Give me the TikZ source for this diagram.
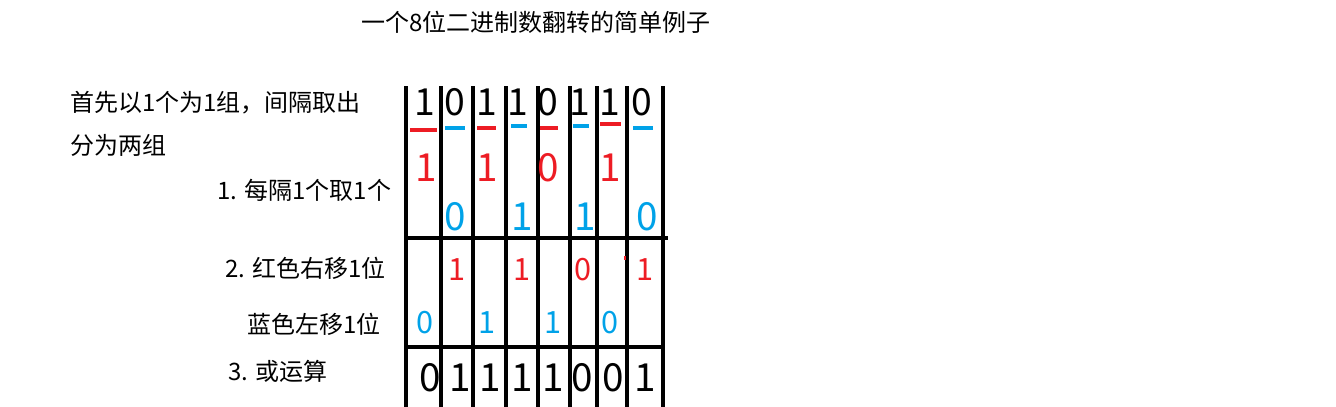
\documentclass[tikz,border=0pt]{standalone}
\usepackage{fontspec}
\newfontfamily\cjk{Noto Sans CJK SC}
\definecolor{pred}{HTML}{ED1C24}
\definecolor{pblue}{HTML}{00A2E8}

\begin{document}
\begin{tikzpicture}[x=0.75pt, y=-0.75pt,
  lbl/.style={font=\cjk\fontsize{18}{20}\selectfont, inner sep=0pt, anchor=west},
  bit/.style={font=\cjk\fontsize{28}{30}\selectfont, inner sep=0pt},
  bigbit/.style={font=\cjk\fontsize{29}{31}\selectfont, inner sep=0pt},
  smallbit/.style={font=\cjk\fontsize{23}{25}\selectfont, inner sep=0pt},
  gridline/.style={line width=3pt, black},
  uline/.style={line width=2.4pt}
]
\useasboundingbox (0,0) rectangle (1336,407);

\node[lbl, anchor=center] (title) at (536,22) {一个8位二进制数翻转的简单例子};
\node[lbl] (intro1) at (70,103) {首先以1个为1组，间隔取出};
\node[lbl] (intro2) at (70,145) {分为两组};
\node[lbl] (stepone) at (217,190) {1. 每隔1个取1个};
\node[lbl] (steptwo) at (225,268) {2. 红色右移1位};
\node[lbl] (steptwob) at (247,324) {蓝色左移1位};
\node[lbl] (stepthree) at (228,371) {3. 或运算};

\foreach \x in {406,441,473,506,538,570,597,627,663}
  \draw[gridline] (\x,86) -- (\x,407);
\draw[gridline] (405,238) -- (668,238);
\draw[gridline] (405,347) -- (665,347);

\foreach \x/\b [count=\i] in {425/1,455/0,487/1,518/1,548/0,580/1,610/1,642/0}
  \node[bit] (top\i) at (\x,102) {\b};

\foreach \a/\b/\y/\c in {410/437/130/pred, 445/465/128/pblue, 477/496/128/pred, 511/527/126/pblue,
    540/558/128/pred, 573/589/126/pblue, 600/621/124/pred, 633/653/128/pblue}
  \draw[uline, \c] (\a,\y) -- (\b,\y);

\foreach \x/\b [count=\i] in {426/1,487/1,548/0,610/1}
  \node[bigbit, text=pred] (red\i) at (\x,168) {\b};
\foreach \x/\b [count=\i] in {455/0,522/1,585/1,647/0}
  \node[bigbit, text=pblue] (blue\i) at (\x,217) {\b};

\foreach \x/\b [count=\i] in {457/1,522/1,583/0,645/1}
  \node[smallbit, text=pred] (rshift\i) at (\x,270) {\b};
\draw[pred, line width=1.5pt] (625,256) -- (625,260);
\foreach \x/\b [count=\i] in {425/0,487/1,553/1,610/0}
  \node[smallbit, text=pblue] (lshift\i) at (\x,323) {\b};

\foreach \x/\b [count=\i] in {430/0,460/1,490/1,522/1,553/1,582/0,613/0,645/1}
  \node[bigbit] (res\i) at (\x,378) {\b};
\end{tikzpicture}
\end{document}
